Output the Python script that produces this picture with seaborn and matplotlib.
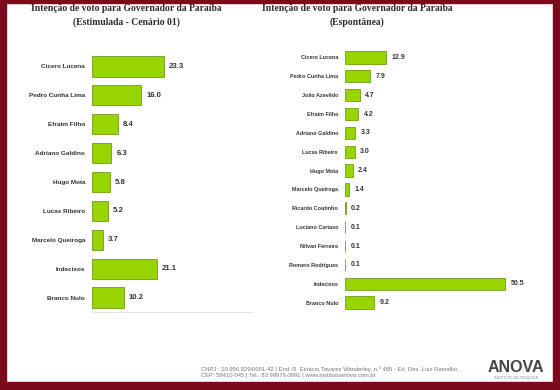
import matplotlib
matplotlib.use("Agg")
import matplotlib.pyplot as plt
import pandas as pd
import seaborn as sns
from matplotlib.patches import Rectangle

# ── Data ──────────────────────────────────────────────────────────────────────
left_title = "Intenção de voto para Governador da Paraíba\n(Estimulada - Cenário 01)"
left_names = ["Cicero Lucena", "Pedro Cunha Lima", "Efraim Filho", "Adriano Galdino",
              "Hugo Mota", "Lucas Ribeiro", "Marcelo Queiroga", "Indecisos", "Branco Nulo"]
left_values = [23.3, 16.0, 8.4, 6.3, 5.8, 5.2, 3.7, 21.1, 10.2]

right_title = "Intenção de voto para Governador da Paraíba\n(Espontânea)"
right_names = ["Cicero Lucena", "Pedro Cunha Lima", "João Azevêdo", "Efraim Filho",
               "Adriano Galdino", "Lucas Ribeiro", "Hugo Mota", "Marcelo Queiroga",
               "Ricardo Coutinho", "Luciano Cartaxo", "Nilvan Ferreira",
               "Romero Rodrigues", "Indecisos", "Branco Nulo"]
right_values = [12.9, 7.9, 4.7, 4.2, 3.3, 3.0, 2.4, 1.4, 0.2, 0.1, 0.1, 0.1, 50.5, 9.2]

footer_lines = [
    "CNPJ : 10.956.929/0001-42 | End.:R. Estácio Tavares Wanderley, n.º 465 - Ed. Des. Luiz Ramalho.",
    "CEP: 58410-045 | Tel.: 83 99979.0891 | www.institutoanova.com.br",
]

W, H = 560, 390
BAR = "#97d400"
EDGE = "#6f9e12"
MAROON = "#7a0b1c"


def px(x0, y0, x1, y1):
    # pixel box -> figure fraction [left, bottom, width, height]
    return [x0 / W, 1 - y1 / H, (x1 - x0) / W, (y1 - y0) / H]


def panel(fig, box, names, values, xmax, bar_h, name_fs, val_fs, bottom_line):
    ax = fig.add_axes(box)
    df = pd.DataFrame({"nome": names, "valor": values})
    sns.barplot(data=df, x="valor", y="nome", orient="h", ax=ax, color=BAR,
                edgecolor=EDGE, linewidth=0.6, width=bar_h, saturation=1)
    ax.set_xlim(0, xmax)
    ax.set_ylim(len(names) - 0.5, -0.5)
    ax.set_xlabel("")
    ax.set_ylabel("")
    ax.set_xticks([])
    ax.tick_params(axis="y", length=0, pad=5, labelsize=name_fs)
    for t in ax.get_yticklabels():
        t.set_fontweight("bold")
        t.set_color("#333333")
    for i, v in enumerate(values):
        ax.text(v + xmax * 0.03, i, f"{v:.1f}", va="center", ha="left",
                fontsize=val_fs, fontweight="bold", color="#333333")
    for s in ["top", "right", "left"]:
        ax.spines[s].set_visible(False)
    ax.spines["bottom"].set_visible(bottom_line)
    ax.spines["bottom"].set_color("#e2e2e2")
    ax.spines["bottom"].set_linewidth(0.6)
    ax.patch.set_alpha(0)
    return ax


sns.set_style("white")
plt.rcParams["font.family"] = ["Liberation Sans", "DejaVu Sans"]

fig = plt.figure(figsize=(W / 100, H / 100), dpi=100)
fig.patch.set_facecolor("white")

# maroon frame
for x, y, w, h in [(0, 0, 6, H), (W - 7, 0, 7, H), (0, 0, W, 3), (0, H - 8, W, 8)]:
    fig.patches.append(Rectangle((x / W, 1 - (y + h) / H), w / W, h / H,
                                 transform=fig.transFigure, color=MAROON, zorder=10))

# titles
fig.text(126 / W, 1 - 15.5 / H, left_title, ha="center", va="center",
         fontsize=6.9, fontweight="bold", family="Liberation Serif",
         color="#2a2a2a", linespacing=1.6)
fig.text(357 / W, 1 - 15.5 / H, right_title, ha="center", va="center",
         fontsize=6.9, fontweight="bold", family="Liberation Serif",
         color="#2a2a2a", linespacing=1.6)

# left panel
panel(fig, px(92, 52, 252, 312), left_names, left_values,
      xmax=160 / 3.09, bar_h=0.7, name_fs=4.6, val_fs=5.6, bottom_line=True)

# right panel
panel(fig, px(345, 48, 525, 312), right_names, right_values,
      xmax=180 / 3.17, bar_h=0.65, name_fs=3.9, val_fs=5.0, bottom_line=False)

# footer
fig.text(201 / W, 1 - 369.5 / H, footer_lines[0], ha="left", va="center",
         fontsize=4.2, color="#777777")
fig.text(201 / W, 1 - 375.5 / H, footer_lines[1], ha="left", va="center",
         fontsize=4.2, color="#777777")
fig.text(516 / W, 1 - 368 / H, "ANOVA", ha="center", va="center",
         fontsize=11.5, fontweight="bold", color="#444444")
fig.text(516 / W, 1 - 377.5 / H, "INSTITUTO DE PESQUISA", ha="center", va="center",
         fontsize=2.6, color="#888888")

fig.savefig("out.png", dpi=100)
